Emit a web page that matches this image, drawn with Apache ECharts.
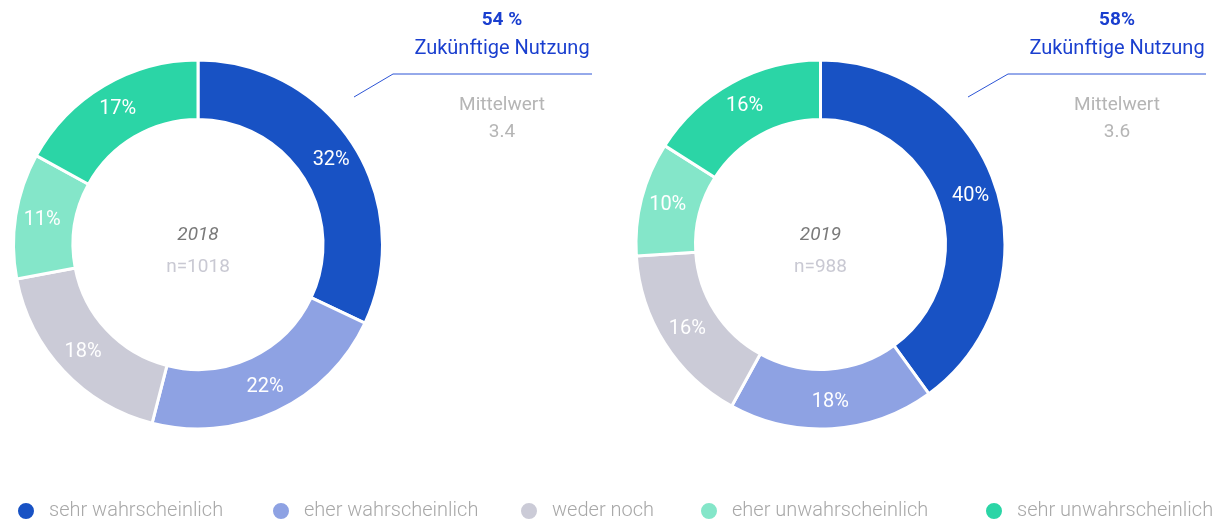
<!DOCTYPE html>
<html>
<head>
<meta charset="utf-8">
<script src="https://cdn.jsdelivr.net/npm/echarts@6/dist/echarts.min.js"></script>
<style>
  html, body { margin: 0; padding: 0; background: #ffffff; }
  #chart { width: 1231px; height: 521px; }
</style>
</head>
<body>
<div id="chart"></div>
<script>
// Answer categories (shared by both years)
const categories = ['sehr wahrscheinlich', 'eher wahrscheinlich', 'weder noch', 'eher unwahrscheinlich', 'sehr unwahrscheinlich'];
const colors = ['#1852C4', '#8EA2E3', '#CBCBD7', '#84E6C9', '#2BD5A6'];

// Shares in percent per year
const values2018 = [32, 22, 18, 11, 17];
const values2019 = [40, 18, 16, 10, 16];

// Summary figures shown beside each donut
const years = ['2018', '2019'];
const sampleSizes = ['n=1018', 'n=988'];
const futureUse = ['54 %', '58%'];
const meanValues = ['3.4', '3.6'];

const FONT = 'Roboto, "Noto Sans", sans-serif';

const chart = echarts.init(document.getElementById('chart'), null, { renderer: 'canvas' });

function donut(values, cx) {
  return {
    type: 'pie',
    center: [cx, 244.5],
    radius: [125, 184.5],
    startAngle: 90,
    clockwise: true,
    avoidLabelOverlap: false,
    silent: true,
    label: {
      show: true,
      position: 'inside',
      formatter: '{c}%',
      color: '#ffffff',
      fontFamily: FONT,
      fontSize: 20,
      fontWeight: 400
    },
    labelLine: { show: false },
    itemStyle: { borderColor: '#ffffff', borderWidth: 3 },
    data: categories.map((name, i) => ({ name, value: values[i], itemStyle: { color: colors[i] } }))
  };
}

function sideNote(i, cx, lineStart, lineKnee, lineEnd) {
  return [
    { type: 'polyline', silent: true, shape: { points: [lineStart, lineKnee, lineEnd] },
      style: { stroke: '#2D55D6', lineWidth: 1, fill: null } },
    { type: 'text', x: cx, y: 11, silent: true,
      style: { text: futureUse[i], fill: '#1A3FCF', font: 'bold 19px ' + FONT, align: 'center', verticalAlign: 'top' } },
    { type: 'text', x: cx, y: 39, silent: true,
      style: { text: 'Zukünftige Nutzung', fill: '#1A3FCF', font: '20px ' + FONT, align: 'center', verticalAlign: 'top' } },
    { type: 'text', x: cx, y: 96, silent: true,
      style: { text: 'Mittelwert', fill: '#B5B5B5', font: '19px ' + FONT, align: 'center', verticalAlign: 'top' } },
    { type: 'text', x: cx, y: 123, silent: true,
      style: { text: meanValues[i], fill: '#B5B5B5', font: '19px ' + FONT, align: 'center', verticalAlign: 'top' } }
  ];
}

function centerText(i, cx) {
  return [
    { type: 'text', x: cx, y: 235, silent: true,
      style: { text: years[i], fill: '#7A7A7A', font: 'italic 19px ' + FONT, align: 'center', verticalAlign: 'middle' } },
    { type: 'text', x: cx, y: 267, silent: true,
      style: { text: sampleSizes[i], fill: '#C9C9D3', font: '19px ' + FONT, align: 'center', verticalAlign: 'middle' } }
  ];
}

// One legend per entry so each sits at its own position along the bottom
const legendLefts = [11, 266, 514, 694, 979];
const legends = categories.map((name, i) => ({
  data: [name],
  left: legendLefts[i],
  top: 496,
  icon: 'circle',
  itemWidth: 18,
  itemHeight: 18,
  selectedMode: false,
  textStyle: { color: '#A8A8A8', fontFamily: FONT, fontSize: 20, fontWeight: 300, padding: [0, 0, 0, 9] }
}));

chart.setOption({
  backgroundColor: '#ffffff',
  animation: false,
  legend: legends,
  series: [donut(values2018, 198), donut(values2019, 820.5)],
  graphic: [
    ...centerText(0, 198),
    ...centerText(1, 820.5),
    ...sideNote(0, 502, [354, 97], [393, 74], [592, 74]),
    ...sideNote(1, 1117, [968, 97], [1008, 74], [1206, 74])
  ]
});
</script>
</body>
</html>
